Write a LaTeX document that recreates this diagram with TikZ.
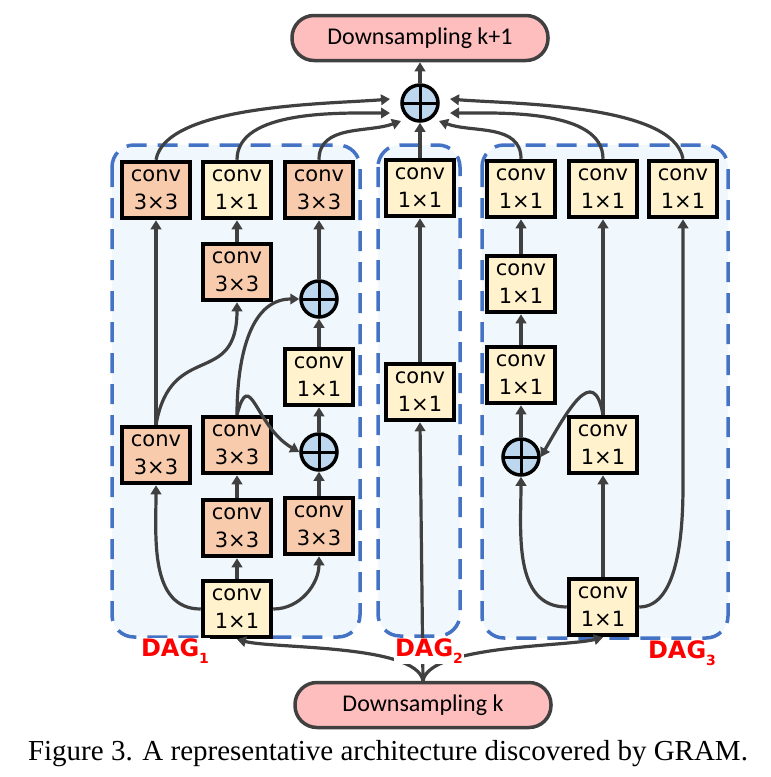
\documentclass[tikz,border=0pt]{standalone}
\usepackage{fontspec}
\setmainfont{DejaVu Sans}
\newfontfamily\dsfont{Carlito}
\newfontfamily\capfont{Liberation Serif}
\usetikzlibrary{arrows.meta,calc}

\definecolor{linegray}{RGB}{64,64,64}
\definecolor{dagblue}{RGB}{68,114,196}
\definecolor{dagfill}{RGB}{240,248,254}
\definecolor{orangefill}{RGB}{248,203,173}
\definecolor{yellowfill}{RGB}{255,242,204}
\definecolor{plusfill}{RGB}{189,215,238}
\definecolor{pinkfill}{RGB}{255,190,190}

\tikzset{
  conv/.style={draw=black, line width=4.5pt, minimum width=68pt, minimum height=56pt,
    inner sep=0pt, align=center, font=\fontsize{21}{28}\selectfont},
  convbig/.style={conv, fill=orangefill},
  convsmall/.style={conv, fill=yellowfill},
  addnode/.style={circle, draw=black, fill=plusfill, line width=3.5pt, minimum size=36pt,
    inner sep=0pt, path picture={\draw[line width=3pt]
      (path picture bounding box.north) -- (path picture bounding box.south)
      (path picture bounding box.west) -- (path picture bounding box.east);}},
  ds/.style={draw=linegray, fill=pinkfill, line width=3.5pt, rounded corners=22pt,
    minimum width=256pt, minimum height=45pt, font=\dsfont\fontsize{24}{28}\selectfont},
  dag/.style={draw=dagblue, fill=dagfill, line width=3.5pt,
    dash pattern=on 20pt off 11pt, rounded corners=22pt},
  daglabel/.style={text=red, fill=white, inner sep=1pt, font=\bfseries\fontsize{24}{26}\selectfont},
  arr/.style={draw=linegray, line width=3.2pt, -{Triangle[length=9pt,width=10.5pt]}}
}

\begin{document}
\begin{tikzpicture}[x=1pt, y=1pt]
  \useasboundingbox (0,0) rectangle (771,-777);

  % DAG boxes
  \draw[dag] (112,-145) rectangle (360,-637);
  \draw[dag] (378,-145) rectangle (460,-636);
  \draw[dag] (482,-145) rectangle (728,-638);

  % Nodes
  \node[ds] (ktop) at (420,-38) {Downsampling k+1};
  \node[ds] (kbot) at (423,-705) {Downsampling k};
  \node[addnode] (p0) at (420,-103) {};

  \node[convbig] (a1) at (156,-190) {conv\\3×3};
  \node[convsmall] (a2) at (237,-190) {conv\\1×1};
  \node[convbig] (a3) at (319,-190) {conv\\3×3};
  \node[convbig] (a4) at (237,-272) {conv\\3×3};
  \node[addnode] (pa1) at (319,-299) {};
  \node[convsmall] (a5) at (319,-377) {conv\\1×1};
  \node[addnode] (pa2) at (319,-452) {};
  \node[convbig] (a6) at (156,-455) {conv\\3×3};
  \node[convbig] (a7) at (237,-445) {conv\\3×3};
  \node[convbig] (a8) at (237,-528) {conv\\3×3};
  \node[convbig] (a9) at (319,-526) {conv\\3×3};
  \node[convsmall] (a10) at (237,-609) {conv\\1×1};

  \node[convsmall] (b1) at (420,-188) {conv\\1×1};
  \node[convsmall] (b2) at (420,-392) {conv\\1×1};

  \node[convsmall] (c1) at (521,-189) {conv\\1×1};
  \node[convsmall] (c2) at (603,-189) {conv\\1×1};
  \node[convsmall] (c3) at (683,-189) {conv\\1×1};
  \node[convsmall] (c4) at (521,-284) {conv\\1×1};
  \node[convsmall] (c5) at (521,-375) {conv\\1×1};
  \node[addnode] (pc) at (521,-457) {};
  \node[convsmall] (c6) at (603,-445) {conv\\1×1};
  \node[convsmall] (c7) at (603,-607) {conv\\1×1};

  \coordinate (t1) at (390,-99);
  \coordinate (t2) at (390,-113);
  \coordinate (t3) at (401,-121);
  \coordinate (t4) at (439,-121);
  \coordinate (t5) at (450,-113);
  \coordinate (t6) at (450,-99);

  % Edges
  \foreach \x/\y in {p0/ktop, b1/p0, a10/a8, a8/a7, a9/pa2, pa2/a5, a5/pa1, pa1/a3, a4/a2,
    a6/a1, kbot/b2, b2/b1, c7/c6, c6/c2, pc/c5, c5/c4, c4/c1}
    \draw[arr] (\x.north) -- (\y.south);

  \draw[arr] (a1.north) to[out=80,in=185,looseness=0.6] (t1);
  \draw[arr] (a2.north) to[out=90,in=180,looseness=0.8] (t2);
  \draw[arr] (a3.north) to[out=90,in=200] (t3);
  \draw[arr] (c1.north) to[out=90,in=-20] (t4);
  \draw[arr] (c2.north) to[out=90,in=0,looseness=0.8] (t5);
  \draw[arr] (c3.north) to[out=100,in=-5,looseness=0.6] (t6);

  \draw[arr] (a10.west) to[out=180,in=-90] (a6.south);
  \draw[arr] (a10.east) to[out=0,in=-90] (a9.south);
  \draw[arr] (a7.north) to[out=90,in=180] (pa1.west);
  \draw[arr] (a7.north) to[out=75,in=150,looseness=1.8] (pa2.west);
  \draw[arr] (a6.north) to[out=80,in=-90,looseness=1.5] (a4.south);

  \draw[arr] (c7.west) to[out=180,in=-90] (pc.south);
  \draw[arr] (c7.east) to[out=0,in=-90,looseness=0.8] ($(c3.south)+(0,-266)$) -- (c3.south);
  \draw[arr] (c6.north) to[out=100,in=60,looseness=1.8] (pc.east);

  \draw[arr] (kbot.north) to[out=100,in=-15,looseness=0.5] (a10.south);
  \draw[arr] (kbot.north) to[out=80,in=195,looseness=0.5] (c7.south);

  % Labels
  \node[daglabel] (l1) at (175,-651) {DAG\raisebox{-7pt}{\fontsize{14}{14}\selectfont 1}};
  \node[daglabel] (l2) at (429,-651) {DAG\raisebox{-7pt}{\fontsize{14}{14}\selectfont 2}};
  \node[daglabel] (l3) at (682,-653) {DAG\raisebox{-7pt}{\fontsize{14}{14}\selectfont 3}};
  \node[font=\capfont\fontsize{29}{32}\selectfont, anchor=base] (cap) at (388,-760)
    {Figure 3. A representative architecture discovered by GRAM.};
\end{tikzpicture}
\end{document}
